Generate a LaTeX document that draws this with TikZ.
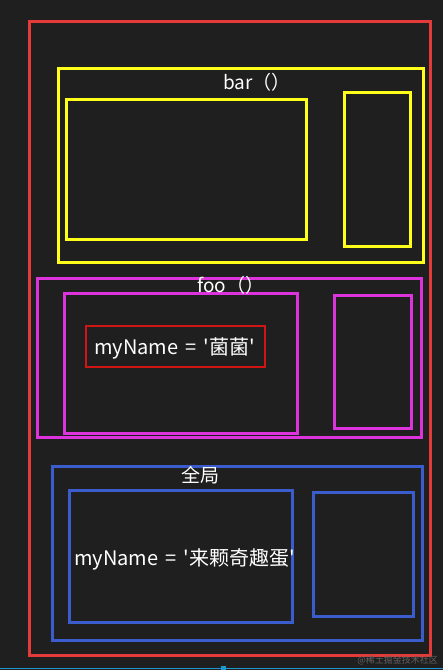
\documentclass[tikz,border=0pt]{standalone}
\usepackage{fontspec}
\setmainfont{Noto Sans CJK SC}[Ligatures=TeXOff]
\definecolor{bg}{HTML}{1F1F1F}
\definecolor{redO}{HTML}{E53A3A}
\definecolor{yel}{HTML}{FFFF1A}
\definecolor{mag}{HTML}{DD33DD}
\definecolor{redI}{HTML}{D01515}
\definecolor{blu}{HTML}{3A5CCC}
\definecolor{cyanline}{HTML}{1E96D2}
\begin{document}
\begin{tikzpicture}[x=1pt,y=-1pt,
  box/.style={draw=#1, line width=3pt, inner sep=0pt, outer sep=0pt, anchor=north west},
  lbl/.style={text=white, font=\fontsize{20}{24}\selectfont, inner sep=0pt, anchor=base west},
  ttl/.style={text=white, font=\fontsize{19}{23}\selectfont, inner sep=0pt, anchor=base west}]
\fill[bg] (0,0) rectangle (443,670);
\useasboundingbox (0,0) rectangle (443,670);
% outer global frame
\node[box=redO, minimum width=401pt, minimum height=634pt] (outer) at (29,21) {};
% bar
\node[box=yel, minimum width=365pt, minimum height=194pt] (bar) at (58,68) {};
\node[box=yel, minimum width=240pt, minimum height=140pt] (barL) at (66,99) {};
\node[box=yel, minimum width=66pt, minimum height=154pt] (barR) at (344,92) {};
\node[ttl] (barT) at (223,89) {bar（）};
% foo
\node[box=mag, minimum width=384pt, minimum height=159pt] (foo) at (37,278) {};
\node[box=mag, minimum width=233pt, minimum height=140pt] (fooL) at (64,293) {};
\node[box=mag, minimum width=77pt, minimum height=133pt] (fooR) at (334,295) {};
\node[ttl] (fooT) at (197,292) {foo（）};
\node[box=redI, line width=2pt, minimum width=179pt, minimum height=41pt] (var1) at (86,326) {};
\node[lbl] (var1T) at (94,354) {myName\hspace{7pt}=\hspace{7pt}'菌菌'};
% global
\node[box=blu, minimum width=370pt, minimum height=174pt] (glob) at (52,466) {};
\node[box=blu, minimum width=223pt, minimum height=132pt] (globL) at (69,490) {};
\node[box=blu, minimum width=100pt, minimum height=124pt] (globR) at (313,492) {};
\node[ttl] (globT) at (181,482) {全局};
\node[lbl] (var2T) at (74,565) {myName\hspace{7pt}=\hspace{7pt}'来颗奇趣蛋'};
% screenshot artefacts
\node[text=black!62, font=\fontsize{9}{10}\selectfont, inner sep=0pt, anchor=east] (wm) at (438,660) {@稀土掘金技术社区};
\draw[cyanline, line width=1.5pt] (0,668.5) -- (443,668.5);
\fill[cyanline] (221,666) rectangle (226,670);
\end{tikzpicture}
\end{document}
